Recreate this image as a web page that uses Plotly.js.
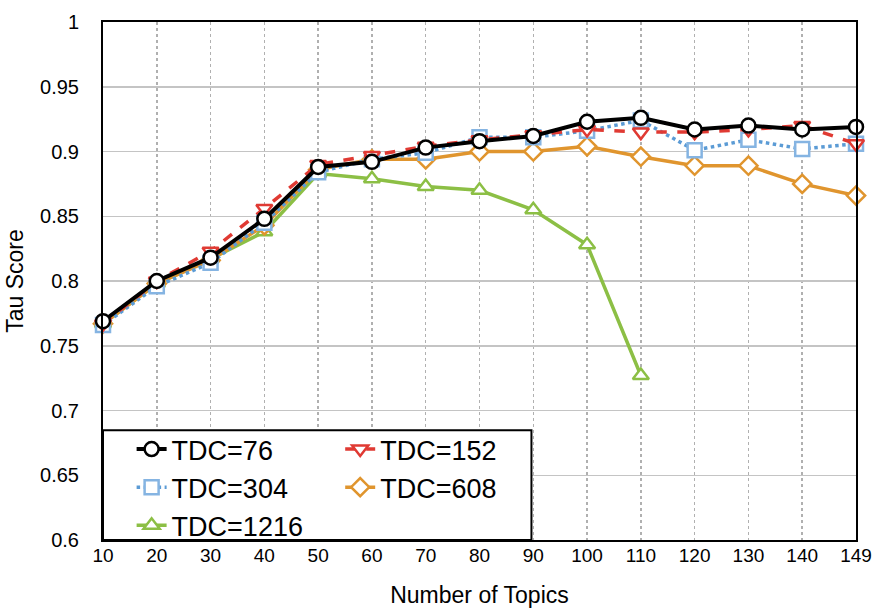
<!DOCTYPE html>
<html>
<head>
<meta charset="utf-8">
<script src="https://cdn.plot.ly/plotly-3.0.1.min.js"></script>
<style>
  html, body { margin: 0; padding: 0; background: #fff; }
  #chart { width: 873px; height: 610px; }
</style>
</head>
<body>
<div id="chart"></div>
<script>
// Number of topics (categorical x axis, evenly spaced)
const topics = ['10', '20', '30', '40', '50', '60', '70', '80', '90', '100', '110', '120', '130', '140', '149'];

// Tau score per TDC setting
const tdc76   = [0.769, 0.800, 0.818, 0.848, 0.888, 0.892, 0.903, 0.908, 0.912, 0.923, 0.926, 0.917, 0.920, 0.917, 0.919];
const tdc152  = [0.767, 0.800, 0.823, 0.856, 0.890, 0.897, 0.904, 0.909, 0.913, 0.917, 0.915, 0.915, 0.917, 0.920, 0.906];
const tdc304  = [0.766, 0.796, 0.814, 0.845, 0.884, 0.894, 0.899, 0.911, 0.911, 0.916, 0.924, 0.901, 0.909, 0.902, 0.906];
const tdc608  = [0.767, 0.798, 0.816, 0.843, 0.886, 0.894, 0.894, 0.900, 0.900, 0.904, 0.896, 0.889, 0.889, 0.875, 0.866];
const tdc1216 = [0.767, 0.798, 0.817, 0.838, 0.883, 0.879, 0.873, 0.870, 0.855, 0.828, 0.727];
const topics1216 = topics.slice(0, tdc1216.length);

const yTickVals = [0.6, 0.65, 0.7, 0.75, 0.8, 0.85, 0.9, 0.95, 1];
const yTickText = ['0.6', '0.65', '0.7', '0.75', '0.8', '0.85', '0.9', '0.95', '1'];

const FONT = 'Liberation Sans, Arial, Helvetica, sans-serif';

function series(name, x, y, color, dash, symbol, lineW, legendId, mColor) {
  return {
    type: 'scatter', mode: 'lines+markers', name: name,
    x: x, y: y, legend: legendId, legendgroup: name,
    cliponaxis: false,
    line: { color: color, width: lineW, dash: dash },
    marker: { symbol: symbol, size: 14, color: '#fff',
              line: { color: mColor || color, width: 2.5 } }
  };
}

// drawn bottom-up so the TDC=76 line sits on top
const traces = [
  series('TDC=1216', topics1216, tdc1216, '#8cbf45', 'solid', 'triangle-up', 3.5, 'legend'),
  series('TDC=608', topics, tdc608, '#e0952e', 'solid', 'diamond', 3.5, 'legend2'),
  series('TDC=304', topics, tdc304, '#5b9bd5', 'dot', 'square', 3.5, 'legend', '#85b4e2'),
  series('TDC=152', topics, tdc152, '#e03a33', 'dash', 'triangle-down', 3.5, 'legend2'),
  series('TDC=76', topics, tdc76, '#000000', 'solid', 'circle', 4, 'legend')
];

const legendCommon = {
  bgcolor: 'rgba(0,0,0,0)', borderwidth: 0,
  font: { family: FONT, size: 27, color: '#000' },
  traceorder: 'reversed', tracegroupgap: 0,
  xanchor: 'left', yanchor: 'top', itemwidth: 30
};

const layout = {
  width: 873, height: 610,
  margin: { l: 103, r: 17, t: 22, b: 70 },
  paper_bgcolor: '#fff', plot_bgcolor: '#fff',
  font: { family: FONT, color: '#000' },
  showlegend: true,
  legend: Object.assign({}, legendCommon, { x: 0.038, y: 0.222 }),
  legend2: Object.assign({}, legendCommon, { x: 0.315, y: 0.222 }),
  xaxis: {
    type: 'category', range: [0, topics.length - 1],
    showgrid: true, gridcolor: '#b0b0b0', gridwidth: 1.5, griddash: 'dot',
    showline: true, linecolor: '#000', linewidth: 2, mirror: true,
    ticks: '', tickfont: { size: 19, family: FONT },
    ticklabelstandoff: -3,
    title: { text: 'Number of Topics', font: { size: 23, family: FONT }, standoff: 22 }
  },
  yaxis: {
    range: [0.6, 1], tickvals: yTickVals, ticktext: yTickText,
    showgrid: true, gridcolor: '#c4c4c4', gridwidth: 1.5,
    showline: true, linecolor: '#000', linewidth: 2, mirror: true,
    zeroline: false,
    ticks: '', tickfont: { size: 20, family: FONT },
    ticklabelstandoff: 18,
    title: { text: 'Tau Score', font: { size: 23, family: FONT }, standoff: 10 }
  },
  shapes: [{
    type: 'rect', xref: 'paper', yref: 'paper',
    x0: 0, x1: 0.569, y0: 0, y1: 0.212,
    fillcolor: '#fff', line: { color: '#000', width: 2 }, layer: 'above'
  }]
};

Plotly.newPlot('chart', traces, layout, { displayModeBar: false, staticPlot: true });
</script>
</body>
</html>
